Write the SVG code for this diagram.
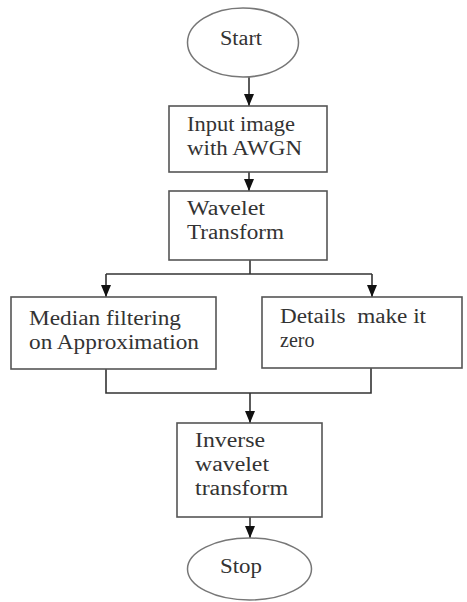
<svg xmlns="http://www.w3.org/2000/svg" width="467" height="602" viewBox="0 0 467 602">
<defs>
<marker id="arr" markerUnits="userSpaceOnUse" markerWidth="12" markerHeight="10" refX="12" refY="5" orient="auto">
<path d="M0,0 L12,5 L0,10 z" fill="#111"/>
</marker>
<style>
.box{fill:#fff;stroke:#555;stroke-width:1.6}
.ell{fill:#fff;stroke:#777;stroke-width:1.5}
.t{font-family:"Liberation Serif","Times New Roman",serif;font-size:20px;fill:#333}
.c{fill:none;stroke:#333;stroke-width:1.6}
</style>
</defs>
<rect width="467" height="602" fill="#fff"/>
<g id="connectors">
<line class="c" x1="249" y1="77" x2="249" y2="106" marker-end="url(#arr)"/>
<line class="c" x1="249" y1="172" x2="249" y2="191" marker-end="url(#arr)"/>
<polyline class="c" points="250,260 250,274"/>
<polyline class="c" points="106,274 372,274"/>
<line class="c" x1="106" y1="274" x2="106" y2="297" marker-end="url(#arr)"/>
<line class="c" x1="372" y1="274" x2="372" y2="297" marker-end="url(#arr)"/>
<polyline class="c" points="106,369 106,393 371,393 371,368"/>
<line class="c" x1="250" y1="393" x2="250" y2="423" marker-end="url(#arr)"/>
<line class="c" x1="250" y1="517" x2="250" y2="538" marker-end="url(#arr)"/>
</g>
<g id="start">
<ellipse class="ell" cx="243" cy="42.5" rx="55.5" ry="34.5"/>
<text class="t" x="220" y="45" textLength="42" lengthAdjust="spacingAndGlyphs">Start</text>
</g>
<g id="input">
<rect class="box" x="169" y="106" width="158" height="66"/>
<text class="t" x="187" y="131" textLength="108" lengthAdjust="spacingAndGlyphs">Input image</text>
<text class="t" x="187" y="155" textLength="115" lengthAdjust="spacingAndGlyphs">with AWGN</text>
</g>
<g id="wavelet">
<rect class="box" x="169" y="191" width="158" height="69"/>
<text class="t" x="187" y="215" textLength="78" lengthAdjust="spacingAndGlyphs">Wavelet</text>
<text class="t" x="187" y="239" textLength="97" lengthAdjust="spacingAndGlyphs">Transform</text>
</g>
<g id="median">
<rect class="box" x="11" y="297" width="205" height="72"/>
<text class="t" x="29" y="325" textLength="152" lengthAdjust="spacingAndGlyphs">Median filtering</text>
<text class="t" x="29" y="349" textLength="170" lengthAdjust="spacingAndGlyphs">on Approximation</text>
</g>
<g id="details">
<rect class="box" x="262" y="297" width="200" height="71"/>
<text class="t" x="280" y="323" textLength="146" lengthAdjust="spacingAndGlyphs" xml:space="preserve">Details  make it</text>
<text class="t" x="280" y="347">zero</text>
</g>
<g id="inverse">
<rect class="box" x="177" y="423" width="145" height="94"/>
<text class="t" x="195" y="447" textLength="70" lengthAdjust="spacingAndGlyphs">Inverse</text>
<text class="t" x="195" y="471" textLength="74" lengthAdjust="spacingAndGlyphs">wavelet</text>
<text class="t" x="195" y="495" textLength="93" lengthAdjust="spacingAndGlyphs">transform</text>
</g>
<g id="stop">
<ellipse class="ell" cx="249.5" cy="569" rx="62" ry="31"/>
<text class="t" x="220" y="573" textLength="42" lengthAdjust="spacingAndGlyphs">Stop</text>
</g>
</svg>
